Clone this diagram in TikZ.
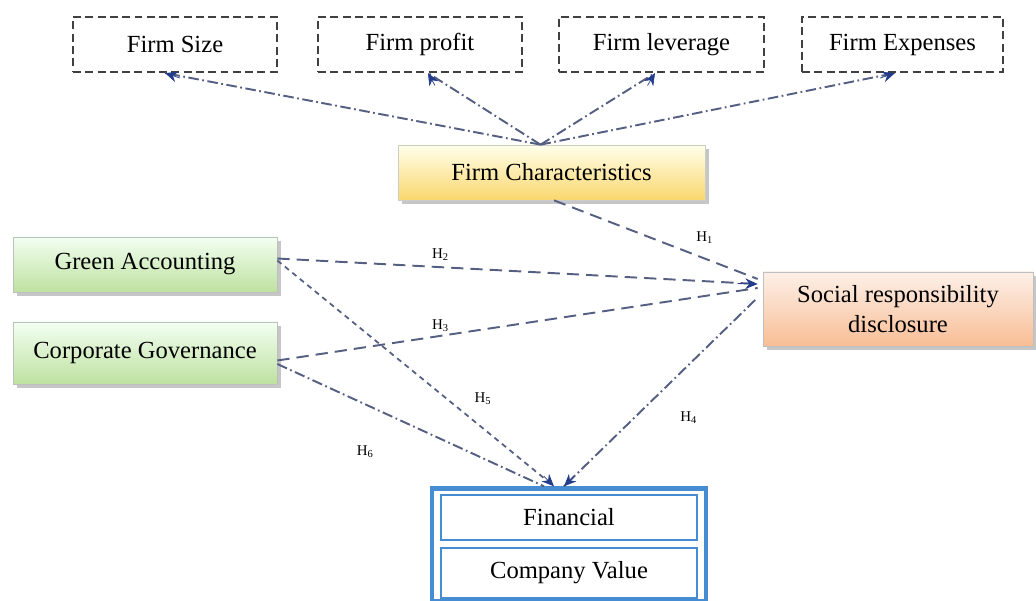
\documentclass[tikz,border=0pt]{standalone}
\usepackage{fontspec}
\setmainfont{Liberation Serif}
\usetikzlibrary{arrows.meta,shadows,positioning}
\definecolor{lineblue}{RGB}{85,95,130}
\definecolor{tipblue}{RGB}{35,60,140}
\definecolor{boxblue}{RGB}{70,140,210}
\begin{document}
\begin{tikzpicture}[x=0.02cm,y=-0.02cm,
  boxfont/.style={font=\fontsize{14}{16}\selectfont},
  topbox/.style={boxfont,draw=black!75,line width=1.2pt,dash pattern=on 4.5pt off 2.5pt,minimum height=55*0.02cm,inner sep=0pt},
  fcbox/.style={boxfont,draw=black!20,top color=yellow!8,bottom color={rgb,255:red,250;green,215;blue,110},drop shadow={opacity=0.45,shadow xshift=2pt,shadow yshift=-2pt},inner sep=0pt},
  greenbox/.style={boxfont,draw=black!25,top color=green!5!white,bottom color={rgb,255:red,190;green,225;blue,160},drop shadow={opacity=0.45,shadow xshift=2pt,shadow yshift=-2pt},inner sep=0pt},
  srdbox/.style={font=\fontsize{14}{17}\selectfont,draw=black!25,top color={rgb,255:red,253;green,240;blue,232},bottom color={rgb,255:red,248;green,190;blue,150},drop shadow={opacity=0.45,shadow xshift=2pt,shadow yshift=-2pt},align=center,inner sep=0pt},
  bluebox/.style={draw=boxblue,line width=2.5pt,inner sep=0pt},
  innerbox/.style={boxfont,draw=boxblue,line width=1.5pt,fill=white,inner sep=0pt},
  hlab/.style={font=\fontsize{8.5}{9}\selectfont,inner sep=1pt},
  tip/.style={-{Stealth[length=7pt,width=6pt]},color=tipblue},
  dashdotline/.style={draw=lineblue,line width=1.1pt,dash pattern=on 6pt off 2pt on 1pt off 2pt},
  dashline/.style={draw=lineblue,line width=1.1pt,dash pattern=on 7pt off 4pt},
  dotline/.style={draw=lineblue,line width=1pt,dash pattern=on 3pt off 2.5pt}
]
\useasboundingbox (0,0) rectangle (1036,601);
% top boxes
\node[topbox,minimum width=204*0.02cm] (fsize) at (175,44.5) {Firm Size};
\node[topbox,minimum width=204*0.02cm] (fprofit) at (420,44.5) {Firm profit};
\node[topbox,minimum width=205*0.02cm] (flev) at (661.5,44.5) {Firm leverage};
\node[topbox,minimum width=201*0.02cm] (fexp) at (902.5,44.5) {Firm Expenses};
% firm characteristics
\node[fcbox,minimum width=307*0.02cm,minimum height=55*0.02cm] (fc) at (551.5,172.5) {Firm Characteristics};
% left boxes
\node[greenbox,minimum width=264*0.02cm,minimum height=55*0.02cm] (ga) at (145,264.5) {Green Accounting};
\node[greenbox,minimum width=264*0.02cm,minimum height=62*0.02cm] (cg) at (145,353) {Corporate Governance};
% SRD
\node[srdbox,minimum width=270*0.02cm,minimum height=74*0.02cm] (srd) at (898,309) {Social responsibility\\disclosure};
% outcome
\node[bluebox,minimum width=274*0.02cm,minimum height=113*0.02cm] (out) at (569,545) {};
\node[innerbox,minimum width=256*0.02cm,minimum height=45*0.02cm] (fin) at (569,517.5) {Financial};
\node[innerbox,minimum width=256*0.02cm,minimum height=50*0.02cm] (cv) at (569,573) {Company Value};
% coordinates
\coordinate (fctop) at ([xshift=-0.22cm]fc.north);
\coordinate (srdin) at ([yshift=0.5cm,xshift=-0.1cm]srd.west);
\coordinate (outin) at ([xshift=-0.2cm]out.north);
% connectors to top boxes
\draw[dashdotline] (fctop) -- ([xshift=-0.2cm]fsize.south);
\draw[dashdotline] (fctop) -- ([xshift=0.16cm]fprofit.south);
\draw[dashdotline] (fctop) -- ([xshift=-0.13cm]flev.south);
\draw[dashdotline] (fctop) -- ([xshift=-0.15cm]fexp.south);
\draw[tip] ([xshift=0.1cm,yshift=-0.1cm]fsize.south) -- ([xshift=-0.2cm]fsize.south);
\draw[tip] ([xshift=0.3cm,yshift=-0.25cm]fprofit.south) -- ([xshift=0.16cm]fprofit.south);
\draw[tip] ([xshift=-0.28cm,yshift=-0.25cm]flev.south) -- ([xshift=-0.13cm]flev.south);
\draw[tip] ([xshift=-0.45cm,yshift=-0.1cm]fexp.south) -- ([xshift=-0.15cm]fexp.south);
% hypotheses to SRD
\draw[dashline] ([xshift=0.05cm]fc.south) -- node[hlab,pos=0.74,yshift=0.42cm] {H\textsubscript{1}} ([yshift=0.1cm]srdin);
\draw[dashline] ([yshift=0.12cm]ga.east) -- node[hlab,pos=0.34,yshift=0.25cm] {H\textsubscript{2}} (srdin);
\draw[dashline] ([yshift=-0.15cm]cg.east) -- node[hlab,pos=0.34,yshift=0.2cm] {H\textsubscript{3}} ([yshift=-0.08cm]srdin);
\draw[tip] ([xshift=-0.4cm,yshift=0.01cm]srdin) -- (srdin);
% to outcome
\draw[dotline] ([yshift=0.08cm]ga.east) -- node[hlab,pos=0.61,xshift=0.74cm] {H\textsubscript{5}} ([xshift=-0.1cm]outin);
\draw[dashdotline] ([yshift=-0.22cm]cg.east) -- node[hlab,pos=0.33,yshift=-0.94cm] {H\textsubscript{6}} ([xshift=-0.3cm]outin);
\draw[dashdotline] ([yshift=0.18cm,xshift=-0.15cm]srd.west) -- node[hlab,pos=0.63,xshift=1.08cm] {H\textsubscript{4}} ([xshift=0.1cm]outin);
\draw[tip] ([xshift=-0.3cm,yshift=0.2cm]outin) -- ([xshift=-0.1cm]outin);
\draw[tip] ([xshift=0.3cm,yshift=0.2cm]outin) -- ([xshift=0.1cm]outin);
\end{tikzpicture}
\end{document}
